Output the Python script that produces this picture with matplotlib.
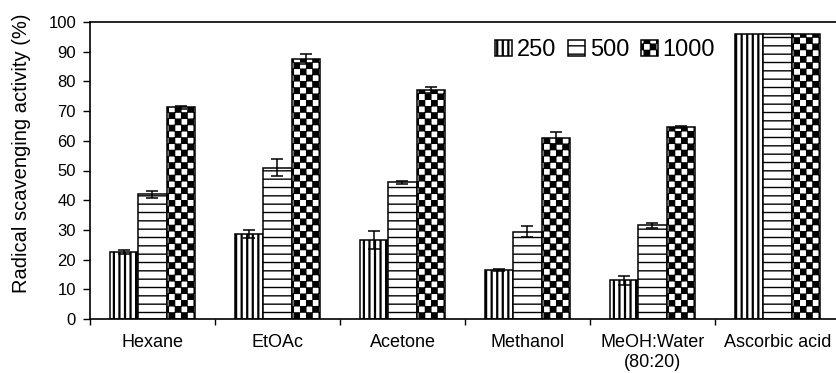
import warnings
import numpy as np
import matplotlib
matplotlib.use("Agg")
import matplotlib.pyplot as plt
import matplotlib.hatch as mhatch
from matplotlib.path import Path

warnings.filterwarnings("ignore")

solvents = ["Hexane", "EtOAc", "Acetone", "Methanol", "MeOH:Water\n(80:20)", "Ascorbic acid"]
doses = ["250", "500", "1000"]

act_250 = [22.6, 28.6, 26.6, 16.4, 13.1, 96.0]
act_500 = [42.0, 51.0, 46.0, 29.4, 31.5, 96.0]
act_1000 = [71.3, 87.6, 77.2, 61.0, 64.7, 96.0]

# standard deviations, extracts only (no error bars on ascorbic acid)
sd_250 = [0.6, 1.4, 3.0, 0.4, 1.5]
sd_500 = [1.2, 2.9, 0.5, 1.9, 0.9]
sd_1000 = [0.5, 1.7, 1.0, 2.0, 0.4]


class CheckerHatch(mhatch.HatchPatternBase):
    """Checkerboard fill, selected with the letter 'c' in a hatch string."""

    def __init__(self, hatch, density):
        self.cells = 8 * hatch.count('c')
        self.num_vertices = 2 * self.cells ** 2 * 5

    def set_vertices_and_codes(self, vertices, codes):
        n = 2 * self.cells
        s = 1.0 / n
        inset = 0.004
        k = 0
        for i in range(n):
            for j in range(n):
                if (i + j) % 2:
                    continue
                x0, y0 = i * s + inset, j * s + inset
                x1, y1 = (i + 1) * s - inset, (j + 1) * s - inset
                vertices[k:k + 5] = [(x0, y0), (x1, y0), (x1, y1), (x0, y1), (x0, y0)]
                codes[k:k + 5] = [Path.MOVETO, Path.LINETO, Path.LINETO,
                                  Path.LINETO, Path.CLOSEPOLY]
                k += 5


mhatch._hatch_types.append(CheckerHatch)

plt.rcParams["font.family"] = ["Liberation Sans", "DejaVu Sans"]
plt.rcParams["hatch.linewidth"] = 1.0

fig = plt.figure(figsize=(8.37, 3.73), dpi=100)
ax = fig.add_axes([90 / 837, 54 / 373, 750 / 837, 297 / 373])

x = np.arange(len(solvents)) + 0.5
w = 0.225
series = [(act_250, sd_250, "|||", 1.6), (act_500, sd_500, "--", 1.0),
          (act_1000, sd_1000, "c", 1.0)]

for k, (vals, sd, hatch, hlw) in enumerate(series):
    pos = x + (k - 1) * w
    bars = ax.bar(pos, vals, w, color="white", edgecolor="black", linewidth=1.1,
                  hatch=hatch, label=doses[k], zorder=2)
    for b in bars:
        if hasattr(b, "set_hatch_linewidth"):
            b.set_hatch_linewidth(hlw)
    n = len(sd)
    ax.errorbar(pos[:n], vals[:n], yerr=sd, fmt="none", ecolor="black",
                elinewidth=1.1, capsize=4.3, capthick=1.1, zorder=3)

ax.set_xlim(0, 6)
ax.set_ylim(0, 100)
ax.set_yticks(np.arange(0, 101, 10))
ax.set_xticks(np.arange(0, 7))
ax.set_xticklabels([])
ax.set_xticks(x, minor=True)
ax.set_xticklabels(solvents, minor=True, fontsize=13)
ax.tick_params(axis="x", which="major", direction="out", length=4.5, width=1)
ax.tick_params(axis="x", which="minor", length=0, pad=11)
ax.tick_params(axis="y", direction="out", length=5, width=1, labelsize=12, pad=5)

for sp in ax.spines.values():
    sp.set_linewidth(1.2)

ax.set_ylabel("Radical scavenging activity (%)", fontsize=14.5)
ax.yaxis.set_label_coords(-0.079, 0.557)

leg = ax.legend(loc="center left", bbox_to_anchor=(495 / 837, 1 - 50 / 373),
                bbox_transform=fig.transFigure, ncol=3, frameon=False, fontsize=17,
                handlelength=0.72, handleheight=0.65, handletextpad=0.2,
                columnspacing=0.5, borderpad=0, borderaxespad=0)
for h, (_, _, _, hlw) in zip(leg.legend_handles, series):
    if hasattr(h, "set_hatch_linewidth"):
        h.set_hatch_linewidth(hlw)

fig.savefig("out.png", dpi=100)
